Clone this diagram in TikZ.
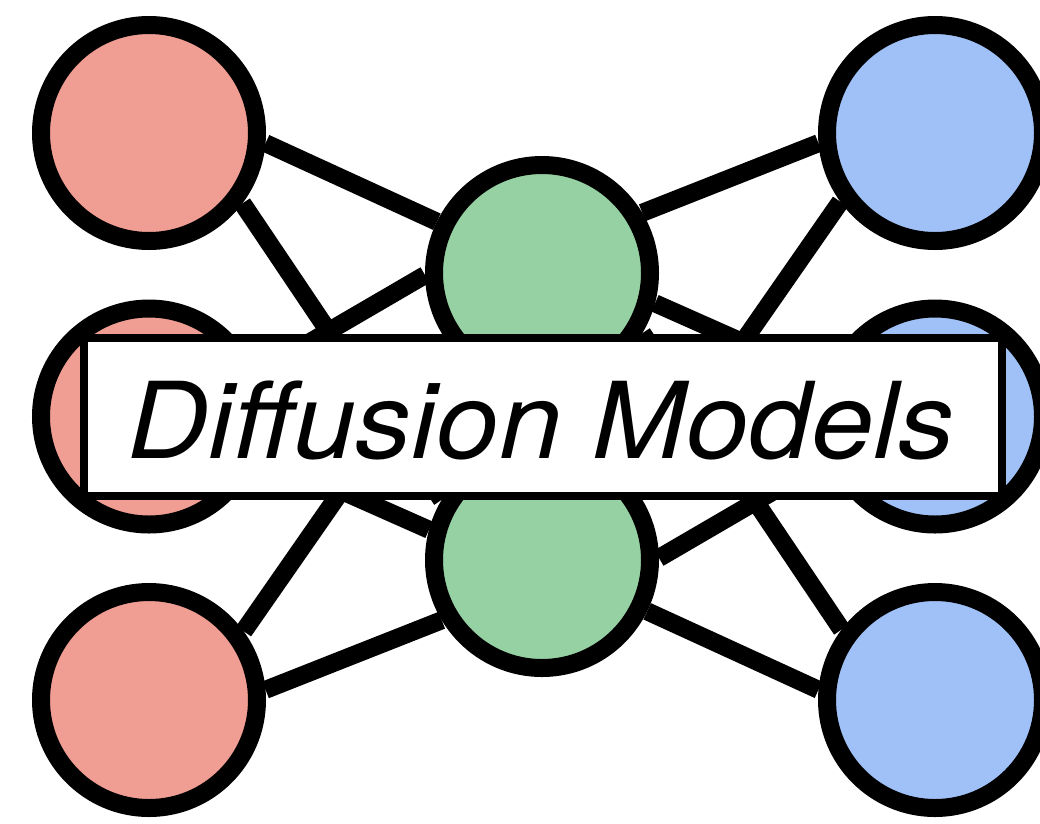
\documentclass[tikz,border=0pt]{standalone}
\usepackage{fontspec}
\usepackage{graphicx}
\newfontfamily\herosfont{TeX Gyre Heros}
\definecolor{myred}{RGB}{240,157,147}
\definecolor{mygreen}{RGB}{150,209,163}
\definecolor{myblue}{RGB}{159,193,247}
\pgfdeclarelayer{edges}
\pgfdeclarelayer{front}
\pgfsetlayers{edges,main,front}
\tikzset{
  neuron/.style={circle, draw=black, line width=18pt, minimum size=216pt, inner sep=0pt},
  redn/.style={neuron, fill=myred},
  greenn/.style={neuron, fill=mygreen},
  bluen/.style={neuron, fill=myblue},
  edge/.style={draw=black, line width=18pt},
  titlebox/.style={draw=black, fill=white, line width=8pt, rectangle, inner sep=0pt,
                   minimum width=917.8pt, minimum height=157.7pt},
  titletext/.style={inner sep=0pt, anchor=base, font=\herosfont\itshape\fontsize{106}{120}\selectfont}
}
\begin{document}
\begin{tikzpicture}[x=1pt,y=-1pt]
\useasboundingbox (0,0) rectangle (1040,823);
\node[redn]   (R1) at (149,133)   {};
\node[redn]   (R2) at (149,416.5) {};
\node[redn]   (R3) at (149,700)   {};
\node[greenn] (G1) at (542,273)   {};
\node[greenn] (G2) at (542,560)   {};
\node[bluen]  (B1) at (935,133)   {};
\node[bluen]  (B2) at (935,416.5) {};
\node[bluen]  (B3) at (935,700)   {};
\begin{pgfonlayer}{edges}
  \draw[edge] (R1.-5)  -- (G1.154);
  \draw[edge] (B3.175) -- (G2.-26);
  \draw[edge] (G1.31)  -- (B1.185);
  \draw[edge] (G2.211) -- (R3.5);
  \draw[edge] (R1.-37) -- (G2.149);
  \draw[edge] (B3.143) -- (G1.-31);
  \draw[edge] (B1.216) -- (G2.35);
  \draw[edge] (R3.36)  -- (G1.215);
  \draw[edge] (R2.22)  -- (G1.181);
  \draw[edge] (B2.202) -- (G2.1);
  \draw[edge] (G1.-15) -- (B2.161);
  \draw[edge] (G2.165) -- (R2.-19);
\end{pgfonlayer}
\begin{pgfonlayer}{front}
  \node[titlebox] (box) at (542.6,417.15) {};
  \node[titletext] (title) at (541,458.3) {\scalebox{1.06}[1]{Diffusion Models}};
\end{pgfonlayer}
\end{tikzpicture}
\end{document}
